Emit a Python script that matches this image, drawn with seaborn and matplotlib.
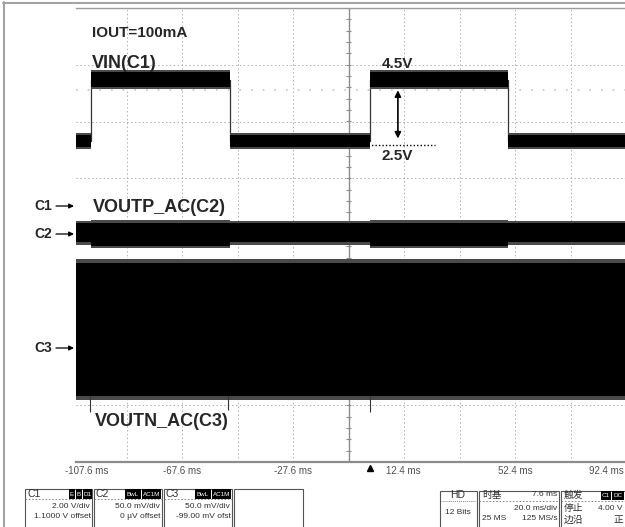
"""
Scope capture: VIN step vs. VOUTP/VOUTN ripple at IOUT=100mA.
"""

import matplotlib
matplotlib.use("Agg")
import matplotlib.pyplot as plt
from matplotlib.patches import Rectangle
from matplotlib.lines import Line2D
import numpy as np
import pandas as pd
import seaborn as sns

W, H = 625, 527

# time window (ms) and screen in divisions
t_left, t_right = -105.8, 92.4
grid_t = [-87.6, -67.6, -47.6, -27.6, -7.6, 12.4, 32.4, 52.4, 72.4]
grid_v = [-3, -2, -1, 1, 2, 3]
tick_t = [-107.6, -67.6, -27.6, 12.4, 52.4, 92.4]
tick_labels = ["-107.6 ms", "-67.6 ms", "-27.6 ms", "12.4 ms", "52.4 ms", "92.4 ms"]

# VIN (C1): segment edges (ms) and band envelope (div) for each segment
vin_edges = [-105.8, -100.4, -50.3, 0.0, 49.9, 92.4]
vin_top = [1.76, 2.87, 1.76, 2.87, 1.76]
vin_bot = [1.55, 2.61, 1.55, 2.61, 1.55]

# VOUTP_AC (C2) ripple band, same segments
c2_top = [0.21, 0.22, 0.21, 0.22, 0.21]
c2_bot = [-0.13, -0.19, -0.13, -0.19, -0.13]

# VOUTN_AC (C3) ripple band, same segments
c3_top = [-0.50, -0.50, -0.50, -0.50, -0.50]
c3_bot = [-2.84, -2.84, -2.84, -2.84, -2.84]

# a few long spikes under the C3 band
c3_spike_t = [-100.8, -51.0, 0.0]
c3_spike_v = [-3.12, -3.08, -3.12]

SANS = ["Liberation Sans", "DejaVu Sans"]
CJK = ["Noto Sans CJK SC", "DejaVu Sans"]


def fx(x):
    return x / W


def fy(y):
    return 1 - y / H


def band(ax, top, bot, fringe):
    top = np.array(list(top) + [top[-1]])
    bot = np.array(list(bot) + [bot[-1]])
    # soft ragged edge, then the solid core
    ax.fill_between(vin_edges, top + fringe, bot - fringe, step="post",
                    color="#4a4a4a", lw=0, zorder=3)
    ax.fill_between(vin_edges, top, bot, step="post", color="black",
                    lw=0, zorder=4)


sns.set_style("white")

fig = plt.figure(figsize=(W / 100, H / 100), dpi=100)
ax = fig.add_axes([fx(76), fy(462), 550 / W, 454 / H])

# graticule
for t in grid_t:
    ax.axvline(t, color="#b0b0b0", lw=0.7, ls=(0, (1.5, 2.5)), zorder=0)
for v in grid_v:
    ax.axhline(v, color="#b0b0b0", lw=0.7, ls=(0, (1.5, 2.5)), zorder=0)
ax.axvline(-7.6, color="#8c8c8c", lw=1.0, zorder=1)
ax.axhline(0, color="#8c8c8c", lw=1.0, zorder=1)
minor = np.arange(-4, 4.01, 0.2)
ax.hlines(minor, -8.4, -6.8, color="#8c8c8c", lw=0.8, zorder=1)
ax.axhline(2.555, color="#c4c4c4", lw=1.2, ls=(0, (1, 6)), zorder=0)

# traces
band(ax, vin_top, vin_bot, 0.03)
band(ax, c2_top, c2_bot, 0.04)
band(ax, c3_top, c3_bot, 0.07)
ax.vlines(c3_spike_t, c3_bot[0], c3_spike_v, color="#333333", lw=0.8, zorder=3)

step_t, step_v = [], []
for i in range(len(vin_top)):
    mid = (vin_top[i] + vin_bot[i]) / 2
    step_t += [vin_edges[i], vin_edges[i + 1]]
    step_v += [mid, mid]
vin_df = pd.DataFrame({"t": step_t, "v": step_v})
sns.lineplot(data=vin_df, x="t", y="v", sort=False, estimator=None,
             color="#333333", lw=0.9, ax=ax, zorder=2)

# 2.5V -> 4.5V marker
ax.plot([-0.6, 23.6], [1.59, 1.59], color="black", lw=1.0, ls=(0, (1, 1.5)), zorder=5)
ax.annotate("", xy=(10.2, 2.55), xytext=(10.2, 1.70),
            arrowprops=dict(arrowstyle="<|-|>", color="black", lw=1.2,
                            mutation_scale=9, shrinkA=0, shrinkB=0), zorder=5)

ax.set_xlim(t_left, t_right)
ax.set_ylim(-4, 4)
ax.set_xticks([])
ax.set_yticks([])
ax.set_xlabel("")
ax.set_ylabel("")
ax.spines["left"].set_visible(False)
ax.spines["right"].set_visible(False)
ax.spines["top"].set_color("#9a9a9a")
ax.spines["top"].set_linewidth(1.0)
ax.spines["bottom"].set_color("#8c8c8c")
ax.spines["bottom"].set_linewidth(1.6)

# trigger marker
ax.plot([0], [-4.1], marker="^", ms=4, color="black", clip_on=False, zorder=6)

# time labels
tick_x = [87, 182, 293, 403, 515, 624]
for x, lab in zip(tick_x, tick_labels):
    ha = "right" if x > 620 else "center"
    fig.text(fx(x), fy(471), lab, ha=ha, va="center", fontsize=7,
             color="#505050", family=SANS)

# screen annotations
fig.text(fx(92), fy(33), "IOUT=100mA", fontsize=11, fontweight="bold",
         va="center", family=SANS)
fig.text(fx(92), fy(64), "VIN(C1)", fontsize=13, fontweight="bold",
         va="center", family=SANS)
fig.text(fx(382), fy(64), "4.5V", fontsize=11, fontweight="bold",
         va="center", family=SANS)
fig.text(fx(382), fy(156), "2.5V", fontsize=11, fontweight="bold",
         va="center", family=SANS)
fig.text(fx(93), fy(207), "VOUTP_AC(C2)", fontsize=13, fontweight="bold",
         va="center", family=SANS)
fig.text(fx(95), fy(422), "VOUTN_AC(C3)", fontsize=13, fontweight="bold",
         va="center", family=SANS)

for name, y in [("C1", 206), ("C2", 234), ("C3", 348)]:
    fig.text(fx(52), fy(y), name, fontsize=10, fontweight="bold",
             ha="right", va="center", family=SANS)
    fig.add_artist(plt.Annotation(
        "", xy=(fx(74), fy(y)), xytext=(fx(56), fy(y)),
        xycoords="figure fraction", textcoords="figure fraction",
        arrowprops=dict(arrowstyle="-|>", color="black", lw=0.9,
                        mutation_scale=7, shrinkA=0, shrinkB=0)))

# outer frame of the capture
fig.add_artist(Line2D([fx(3.5), fx(3.5)], [fy(2), fy(527)], color="#a4a4a4", lw=1.5))
fig.add_artist(Line2D([fx(3), fx(625)], [fy(3), fy(3)], color="#a4a4a4", lw=1.5))


# info panel along the bottom
def box(x0, x1, y0=489, y1=540):
    fig.add_artist(Rectangle((fx(x0), fy(y1)), fx(x1) - fx(x0), fy(y0) - fy(y1),
                             fill=False, ec="#555555", lw=0.8))


def badge(x0, x1, text, y0=489, y1=499):
    fig.add_artist(Rectangle((fx(x0), fy(y1)), fx(x1) - fx(x0), fy(y0) - fy(y1),
                             fc="black", ec="black", lw=0))
    fig.text(fx((x0 + x1) / 2), fy((y0 + y1) / 2), text, ha="center",
             va="center", fontsize=4.5, color="white", family=SANS)


def txt(x, y, s, ha="left", size=6, fam=SANS):
    fig.text(fx(x), fy(y), s, ha=ha, va="center", fontsize=size,
             color="#303030", family=fam)


def dashed(x0, x1, y, color="#777777"):
    fig.add_artist(Line2D([fx(x0), fx(x1)], [fy(y), fy(y)], color=color,
                          lw=0.6, ls=(0, (2, 2))))


channels = [
    (25, 92, "C1", [(69, 75, "E"), (76, 82, "B"), (83, 92, "D1")],
     "2.00 V/div", "1.1000 V offset"),
    (94, 162, "C2", [(125, 141, "BwL"), (142, 161, "AC1M")],
     "50.0 mV/div", "0 µV offset"),
    (164, 232, "C3", [(195, 211, "BwL"), (212, 231, "AC1M")],
     "50.0 mV/div", "-99.00 mV ofst"),
]
for x0, x1, name, badges, row1, row2 in channels:
    box(x0, x1)
    dashed(x0, x1, 499)
    txt(x0 + 2, 494, name, size=7.5)
    for b0, b1, s in badges:
        badge(b0, b1, s)
    txt(x1 - 2, 507, row1, ha="right")
    txt(x1 - 1, 517, row2, ha="right")
box(234, 303)

box(440, 477, y0=491)
txt(458, 495, "HD", ha="center", size=7.5)
fig.add_artist(Line2D([fx(441), fx(476)], [fy(501), fy(501)], color="#3cb44b",
                      lw=0.7, ls=(0, (1, 1))))
txt(458, 512, "12 Bits", ha="center")

box(479, 559, y0=491)
dashed(479, 559, 501)
txt(482, 495, "时基", size=7, fam=CJK)
txt(557, 495, "7.6 ms", ha="right")
txt(557, 509, "20.0 ms/div", ha="right")
txt(482, 519, "25 MS")
txt(557, 519, "125 MS/s", ha="right")

box(561, 660, y0=491)
dashed(561, 660, 501)
txt(564, 495, "触发", size=7, fam=CJK)
badge(601, 611, "C1", y0=491, y1=500)
badge(612, 624, "DC", y0=491, y1=500)
txt(564, 508, "停止", size=7, fam=CJK)
txt(623, 508, "4.00 V", ha="right")
txt(564, 520, "边沿", size=7, fam=CJK)
txt(623, 520, "正", ha="right", size=7, fam=CJK)

fig.savefig("out.png", dpi=100)
plt.close(fig)
